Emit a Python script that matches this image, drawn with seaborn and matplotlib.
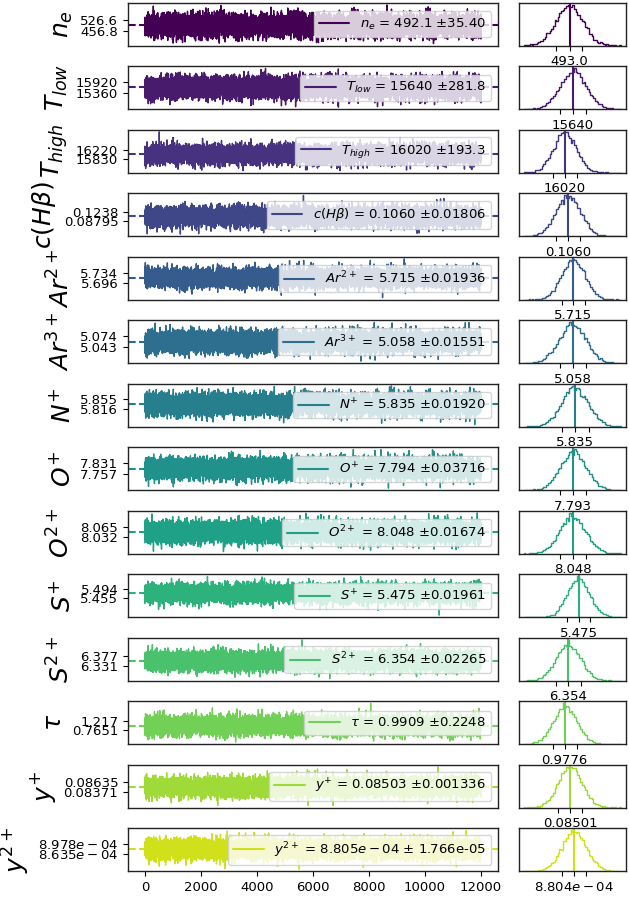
"""
MCMC chain summary: trace (left) and posterior histogram (right) per parameter.
"""

import numpy as np
import pandas as pd
import matplotlib
matplotlib.use('Agg')
import matplotlib.pyplot as plt
import seaborn as sns

# Parameter names and summary numbers
labels = [r'$n_e$', r'$T_{low}$', r'$T_{high}$', r'$c(H\beta)$', r'$Ar^{2+}$',
          r'$Ar^{3+}$', r'$N^{+}$', r'$O^{+}$', r'$O^{2+}$', r'$S^{+}$',
          r'$S^{2+}$', r'$\tau$', r'$y^{+}$', r'$y^{2+}$']

means = [492.1, 15640, 16020, 0.1060, 5.715, 5.058, 5.835, 7.794, 8.048,
         5.475, 6.354, 0.9909, 0.08503, 8.805e-04]
sigmas = [35.40, 281.8, 193.3, 0.01806, 0.01936, 0.01551, 0.01920, 0.03716,
          0.01674, 0.01961, 0.02265, 0.2248, 0.001336, 1.766e-05]
legend_txt = ['492.1 ±35.40', '15640 ±281.8', '16020 ±193.3', '0.1060 ±0.01806',
              '5.715 ±0.01936', '5.058 ±0.01551', '5.835 ±0.01920',
              '7.794 ±0.03716', '8.048 ±0.01674', '5.475 ±0.01961',
              '6.354 ±0.02265', '0.9909 ±0.2248', '0.08503 ±0.001336',
              r'$8.805e-04$ ± 1.766e-05']

medians = [493.0, 15640, 16020, 0.1060, 5.715, 5.058, 5.835, 7.793, 8.048,
           5.475, 6.354, 0.9776, 0.08501, 8.804e-04]
median_txt = ['493.0', '15640', '16020', '0.1060', '5.715', '5.058', '5.835',
              '7.793', '8.048', '5.475', '6.354', '0.9776', '0.08501',
              r'$8.804e-04$']

tick_hi = [526.6, 15920, 16220, 0.1238, 5.734, 5.074, 5.855, 7.831, 8.065,
           5.494, 6.377, 1.217, 0.08635, 8.978e-04]
tick_lo = [456.8, 15360, 15830, 0.08795, 5.696, 5.043, 5.816, 7.757, 8.032,
           5.455, 6.331, 0.7651, 0.08371, 8.635e-04]
tick_hi_txt = ['526.6', '15920', '16220', '0.1238', '5.734', '5.074', '5.855',
               '7.831', '8.065', '5.494', '6.377', '1.217', '0.08635',
               r'$8.978e-04$']
tick_lo_txt = ['456.8', '15360', '15830', '0.08795', '5.696', '5.043', '5.816',
               '7.757', '8.032', '5.455', '6.331', '0.7651', '0.08371',
               r'$8.635e-04$']

n_steps = 12000

sns.set_style('ticks')
plt.rcParams.update({
    'font.family': ['DejaVu Sans'],
    'font.size': 9.5,
    'xtick.labelsize': 9.5,
    'ytick.labelsize': 9.5,
    'text.color': 'black',
    'axes.labelcolor': 'black',
    'xtick.color': 'black',
    'ytick.color': 'black',
    'axes.edgecolor': '#222222',
    'axes.linewidth': 1.0,
    'xtick.major.size': 3.5,
    'ytick.major.size': 3.5,
})

colors = plt.cm.viridis(np.linspace(0, 1, len(labels) + 1))[:len(labels)]

fig = plt.figure(figsize=(6.29, 8.98), dpi=100)
gs = fig.add_gridspec(len(labels), 2, width_ratios=[370, 107],
                      left=0.2035, right=0.995, top=0.9967, bottom=0.030,
                      hspace=0.49, wspace=0.088)

# the chain itself is sampling noise and cannot be read point by point;
# it is rebuilt from the read mean and sigma of each parameter
rng = np.random.default_rng(11)

for i, name in enumerate(labels):
    col = colors[i]
    chain = means[i] + sigmas[i] * rng.standard_normal(n_steps)
    df = pd.DataFrame({'step': np.arange(n_steps), 'value': chain})

    ax = fig.add_subplot(gs[i, 0])
    sns.lineplot(data=df, x='step', y='value', ax=ax, color=col, lw=1.0,
                 estimator=None, label=f'{name} = {legend_txt[i]}')
    ax.axhline(medians[i], color=col, ls='--', lw=1.5)
    ax.set_xlim(-600, 12600)
    ax.set_yticks([tick_lo[i], tick_hi[i]])
    ax.set_yticklabels([tick_lo_txt[i], tick_hi_txt[i]])
    ax.set_ylabel(name, fontsize=18)
    ax.set_xlabel('')
    if i < len(labels) - 1:
        ax.set_xticks([])
    else:
        ax.set_xticks(range(0, 12001, 2000))
    leg = ax.legend(loc='center right', fontsize=9.5, framealpha=0.8,
                    handlelength=2.3)
    for h in leg.get_lines():
        h.set_linewidth(1.5)

    axh = fig.add_subplot(gs[i, 1])
    sns.histplot(x=chain, bins=60, element='step', fill=False, color=col,
                 lw=1.0, ax=axh)
    axh.axvline(medians[i], color=col, lw=1.5)
    axh.set_yticks([])
    axh.set_ylabel('')
    axh.set_xticks([tick_lo[i], medians[i], tick_hi[i]])
    axh.set_xticklabels(['', median_txt[i], ''])

for ax in fig.axes:
    for s in ax.spines.values():
        s.set_visible(True)

fig.savefig('out.png', dpi=100)
